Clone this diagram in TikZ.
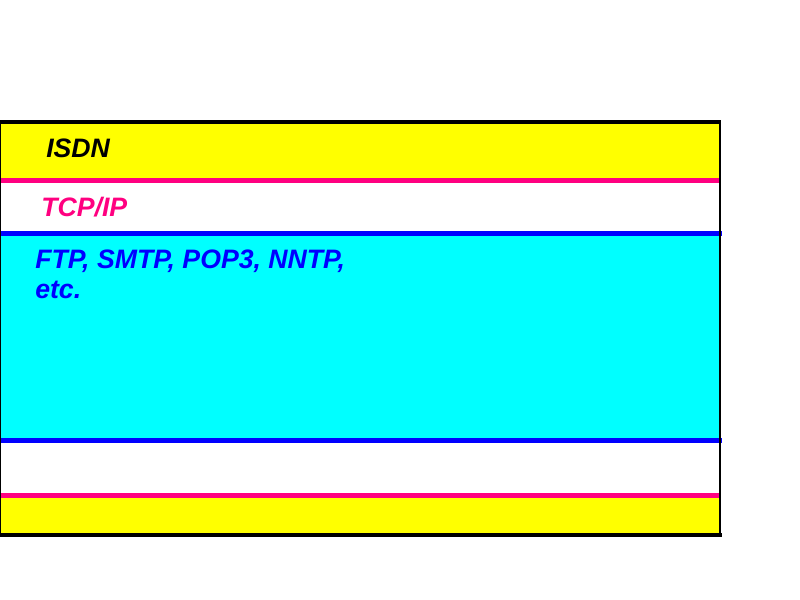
\documentclass[tikz,border=0pt]{standalone}
\usepackage{fontspec}
\setmainfont{Liberation Sans}
\usepackage{tikz}

\definecolor{bandyellow}{RGB}{255,255,0}
\definecolor{bandcyan}{RGB}{0,255,255}
\definecolor{linepink}{RGB}{255,0,128}
\definecolor{lineblue}{RGB}{0,0,255}

\begin{document}
\begin{tikzpicture}[x=0.75pt,y=-0.75pt]
	\useasboundingbox (0,0) rectangle (800,600);
	% layer bands
	\fill[bandyellow] (0,122) rectangle (720,180);
	\fill[white] (0,180) rectangle (720,233);
	\fill[bandcyan] (0,233) rectangle (720,440);
	\fill[white] (0,440) rectangle (720,495);
	\fill[bandyellow] (0,495) rectangle (720,535);
	% separating lines
	\begin{scope}[line width=4pt]
		\draw[linepink] (0,180.5) -- (720,180.5);
		\draw[lineblue] (0,233.5) -- (722,233.5);
		\draw[lineblue] (0,440.5) -- (722,440.5);
		\draw[linepink] (0,495.5) -- (720,495.5);
	\end{scope}
	% frame
	\draw[black,line width=3.2pt] (0,122) -- (720,122);
	\draw[black,line width=3.2pt] (0,535) -- (722,535);
	\draw[black,line width=2.2pt] (720,120) -- (720,537);
	\draw[black,line width=0.9pt] (0.6,120) -- (0.6,536);
	% labels
	\begin{scope}[every node/.style={anchor=base west,inner sep=0pt,
	              font=\fontsize{20pt}{24pt}\selectfont\bfseries\itshape}]
		\node[black] (isdn) at (46,157) {ISDN};
		\node[linepink] (tcpip) at (41,216) {TCP/IP};
		\node[lineblue] (apps) at (35,268) {FTP, SMTP, POP3, NNTP,};
		\node[lineblue] (etc) at (35,298) {etc.};
	\end{scope}
\end{tikzpicture}
\end{document}
